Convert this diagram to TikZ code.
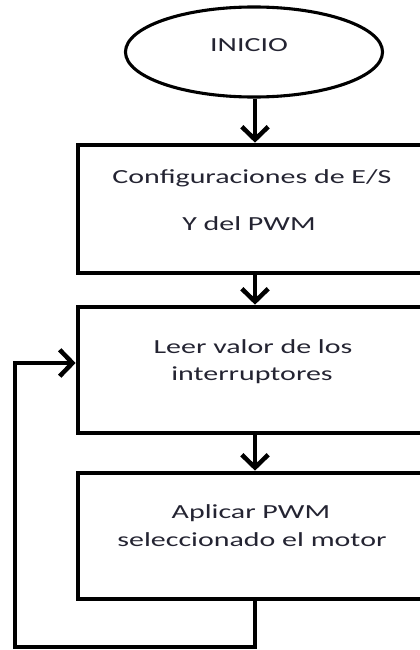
\documentclass[tikz,border=0pt]{standalone}
\usepackage{fontspec}
\setmainfont{Carlito}[FakeStretch=1.5]
\usepackage{xcolor}
\usetikzlibrary{arrows.meta,shapes.geometric}
\definecolor{flowBlack}{RGB}{0,0,0}
\definecolor{flowText}{RGB}{36,36,50}

\begin{document}
\begin{tikzpicture}[x=0.025cm,y=-0.025cm,
    box/.style={draw=flowBlack, line width=3.3pt, minimum width=9.05cm, inner sep=0pt},
    txt/.style={text=flowText, font=\fontsize{14.2}{17}\selectfont, inner sep=0pt},
    flow/.style={-{Straight Barb[length=3.2mm,width=6.6mm]}, line width=3.2pt, draw=flowBlack}]
    \useasboundingbox (0,0) rectangle (420,650);
    \clip (0,0) rectangle (420,650);

    % inicio
    \node[ellipse, draw=flowBlack, line width=2.2pt, minimum width=6.425cm, minimum height=2.25cm, inner sep=0pt] (inicio) at (254,52) {};
    \node[txt] (tInicio) at (249,45) {INICIO};

    % bloques del programa
    \node[box, minimum height=3.2cm] (config) at (259,209) {};
    \node[txt] (tConfigA) at (252,178) {Configuraciones de E/S};
    \node[txt] (tConfigB) at (249,224) {Y del PWM};

    \node[box, minimum height=3.15cm] (leer) at (259,370) {};
    \node[txt] (tLeerA) at (253,347) {Leer valor de los};
    \node[txt] (tLeerB) at (252,375) {interruptores};

    \node[box, minimum height=3.15cm] (aplicar) at (259,536) {};
    \node[txt] (tAplicarA) at (251,513) {Aplicar PWM};
    \node[txt] (tAplicarB) at (252,540) {seleccionado el motor};

    % flechas
    \draw[flow] (inicio.south -| 255,0) -- (config.north -| 255,0);
    \draw[flow] (config.south -| 255,0) -- (leer.north -| 255,0);
    \draw[flow] (leer.south -| 255,0) -- (aplicar.north -| 255,0);

    % lazo de retorno
    \coordinate (retorno) at (15,647);
    \draw[flow] (aplicar.south -| 255,0) |- (retorno) |- ([yshift=0.175cm]leer.west);
\end{tikzpicture}
\end{document}
